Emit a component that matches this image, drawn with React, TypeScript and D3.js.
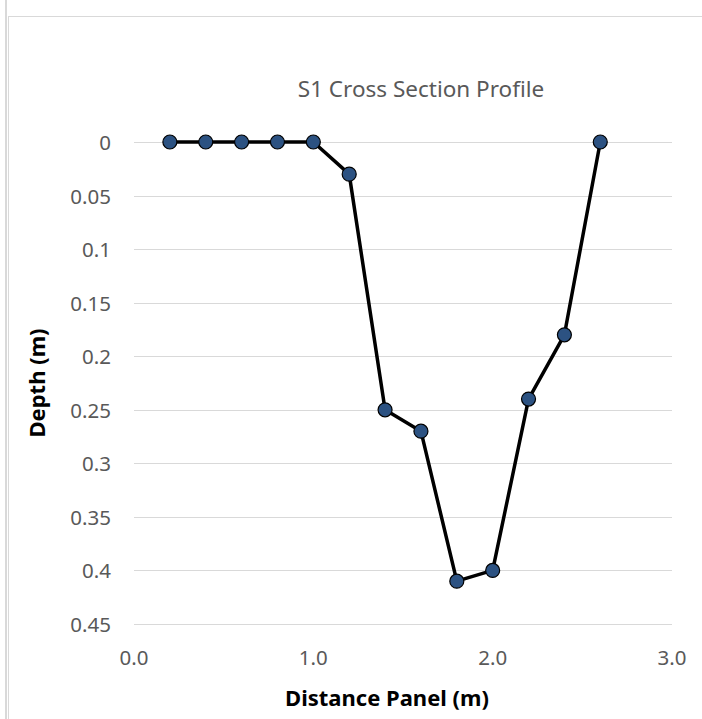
import * as React from "react";
import * as d3 from "d3";

const distances = [0.2, 0.4, 0.6, 0.8, 1.0, 1.2, 1.4, 1.6, 1.8, 2.0, 2.2, 2.4, 2.6];
const depths = [0, 0, 0, 0, 0, 0.03, 0.25, 0.27, 0.41, 0.4, 0.24, 0.18, 0];
const xTicks = [0, 1, 2, 3];
const yTicks = [0, 0.05, 0.1, 0.15, 0.2, 0.25, 0.3, 0.35, 0.4, 0.45];

const W = 702;
const H = 719;
const font = "'Noto Sans', 'Open Sans', sans-serif";
const textColor = "#595959";

export default function App() {
  const ref = React.useRef<SVGSVGElement>(null);

  React.useEffect(() => {
    if (!ref.current) return;
    const svg = d3.select(ref.current);
    svg.selectAll("*").remove();

    const plot = { left: 134, right: 672, top: 142, bottom: 624 };
    const x = d3.scaleLinear().domain([0, 3]).range([plot.left, plot.right]);
    const y = d3.scaleLinear().domain([0, 0.45]).range([plot.top, plot.bottom]);

    // outer frame lines
    svg.append("line")
      .attr("x1", 6).attr("x2", 6).attr("y1", 0).attr("y2", H)
      .attr("stroke", "#d9d9d9").attr("stroke-width", 2);
    svg.append("rect")
      .attr("x", 8.5).attr("y", 16.5).attr("width", W + 20).attr("height", H + 20)
      .attr("fill", "#fff").attr("stroke", "#d9d9d9").attr("stroke-width", 1);

    // gridlines
    svg.append("g")
      .selectAll("line")
      .data(yTicks)
      .enter().append("line")
      .attr("x1", plot.left).attr("x2", plot.right)
      .attr("y1", d => Math.round(y(d)) + 0.5).attr("y2", d => Math.round(y(d)) + 0.5)
      .attr("stroke", "#d9d9d9").attr("stroke-width", 1);

    // y tick labels
    svg.append("g")
      .selectAll("text")
      .data(yTicks)
      .enter().append("text")
      .attr("x", 111)
      .attr("y", d => y(d))
      .attr("text-anchor", "end")
      .attr("dominant-baseline", "central")
      .attr("font-family", font)
      .attr("font-size", "20.5px")
      .attr("fill", textColor)
      .text(d => String(d));

    // x tick labels
    svg.append("g")
      .selectAll("text")
      .data(xTicks)
      .enter().append("text")
      .attr("x", d => x(d))
      .attr("y", 657)
      .attr("text-anchor", "middle")
      .attr("dominant-baseline", "central")
      .attr("font-family", font)
      .attr("font-size", "20.5px")
      .attr("fill", textColor)
      .text(d => d.toFixed(1));

    // title
    svg.append("text")
      .attr("x", 421).attr("y", 88)
      .attr("text-anchor", "middle")
      .attr("dominant-baseline", "central")
      .attr("font-family", font)
      .attr("font-size", "22.5px")
      .attr("fill", textColor)
      .text("S1 Cross Section Profile");

    // axis titles
    svg.append("text")
      .attr("x", 387).attr("y", 697)
      .attr("text-anchor", "middle")
      .attr("dominant-baseline", "central")
      .attr("font-family", font)
      .attr("font-size", "22px")
      .attr("font-weight", "bold")
      .attr("fill", "#000")
      .text("Distance Panel (m)");
    svg.append("text")
      .attr("transform", `translate(36,383) rotate(-90)`)
      .attr("text-anchor", "middle")
      .attr("dominant-baseline", "central")
      .attr("font-family", font)
      .attr("font-size", "22px")
      .attr("font-weight", "bold")
      .attr("fill", "#000")
      .text("Depth (m)");

    const pts = distances.map((d, i) => [d, depths[i]] as [number, number]);
    const line = d3.line<[number, number]>().x(d => x(d[0])).y(d => y(d[1]));
    svg.append("path")
      .attr("d", line(pts))
      .attr("fill", "none")
      .attr("stroke", "#000")
      .attr("stroke-width", 3.5)
      .attr("stroke-linejoin", "round");

    svg.append("g")
      .selectAll("circle")
      .data(pts)
      .enter().append("circle")
      .attr("cx", d => x(d[0]))
      .attr("cy", d => y(d[1]))
      .attr("r", 7)
      .attr("fill", "#2c5282")
      .attr("stroke", "#000")
      .attr("stroke-width", 1.2);
  }, []);

  return (
    <svg
      ref={ref}
      width={W}
      height={H}
      style={{ position: "absolute", left: 0, top: 0, background: "#fff" }}
    />
  );
}
